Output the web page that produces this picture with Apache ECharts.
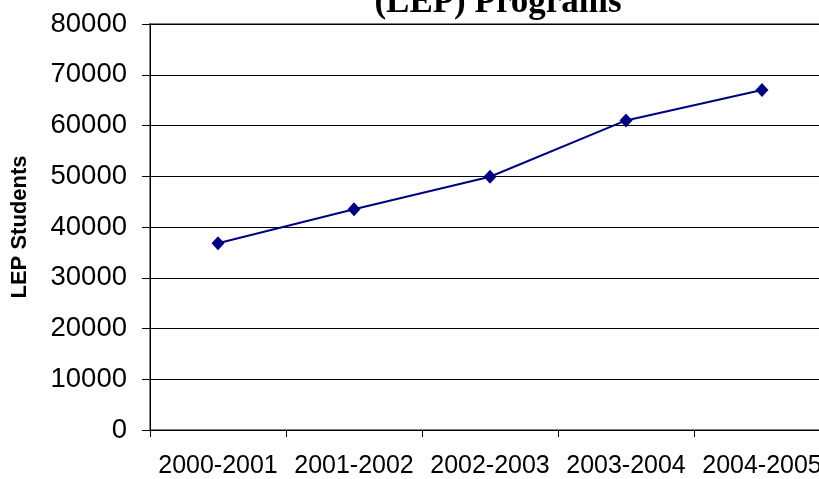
<!DOCTYPE html>
<html><head><meta charset="utf-8">
<script src="https://cdn.jsdelivr.net/npm/echarts@6/dist/echarts.min.js"></script>
<style>html,body{margin:0;padding:0;background:#fff;overflow:hidden;width:819px;height:479px}#c{width:850px;height:479px}</style>
</head><body><div id="c"></div>
<script>
const categories = ['2000-2001','2001-2002','2002-2003','2003-2004','2004-2005'];
const lepStudents = [36800, 43500, 49900, 61000, 67000];
const yTicks = {min: 0, max: 80000, interval: 10000};
const titleText = '(LEP) Programs';
const yName = 'LEP Students';

const chart = echarts.init(document.getElementById('c'), null, {renderer: 'canvas'});
chart.setOption({
  animation: false,
  backgroundColor: '#fff',
  title: {
    text: titleText, left: 493, top: -20, textAlign: 'center',
    textStyle: {fontFamily: 'Liberation Serif', fontWeight: 'bold', fontSize: 35, color: '#000'}
  },
  graphic: [{
    type: 'text', x: 20, y: 227, rotation: Math.PI/2,
    style: {text: yName, fontFamily: 'Liberation Sans', fontWeight: 'bold', fontSize: 22, fill: '#000',
            align: 'center', verticalAlign: 'middle'}
  }],
  grid: {left: 150, top: 24, width: 680, height: 406, show: true, borderColor: '#808080', borderWidth: 2},
  xAxis: {
    type: 'category', data: categories, boundaryGap: true,
    axisLine: {lineStyle: {color: '#000', width: 1}},
    axisTick: {show: true, length: 7, lineStyle: {color: '#000'}, alignWithLabel: false},
    axisLabel: {margin: 24, fontFamily: 'Liberation Sans', fontSize: 25, color: '#000', interval: 0}
  },
  yAxis: {
    type: 'value', min: yTicks.min, max: yTicks.max, interval: yTicks.interval,
    axisLine: {show: true, lineStyle: {color: '#000', width: 1}},
    axisTick: {show: true, length: 8, lineStyle: {color: '#000'}},
    axisLabel: {margin: 23, fontFamily: 'Liberation Sans', fontSize: 27.5, color: '#000',
                formatter: function (v) { return String(v); }},
    splitLine: {show: true, lineStyle: {color: '#000', width: 1}}
  },
  series: [{
    type: 'line', data: lepStudents,
    lineStyle: {color: '#000080', width: 2},
    itemStyle: {color: '#000080'},
    symbol: 'diamond', symbolSize: [13, 14], showSymbol: true
  }]
});
</script></body></html>
